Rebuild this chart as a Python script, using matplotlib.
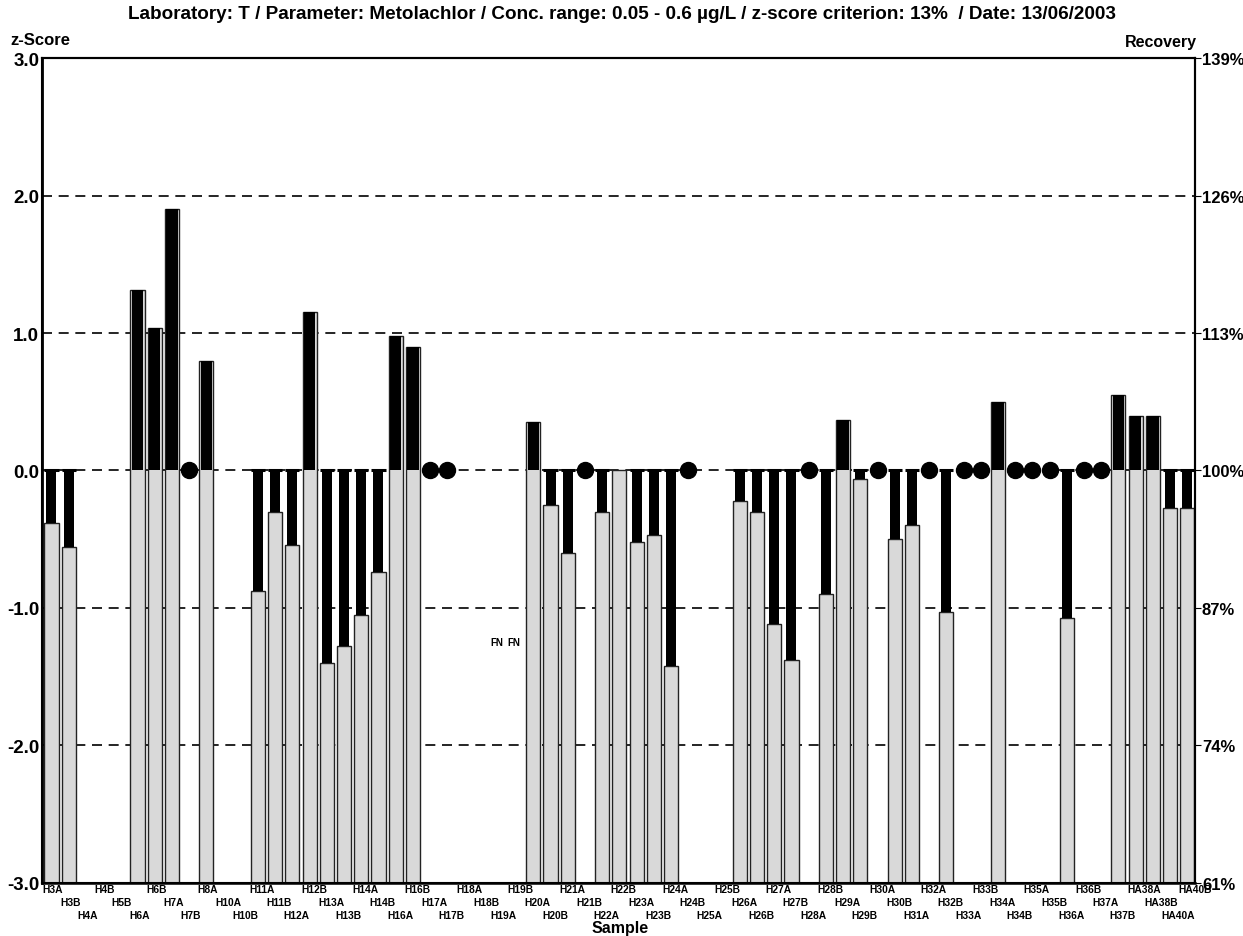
import matplotlib.pyplot as plt
import numpy as np

samples = ["H3A", "H3B", "H4A", "H4B", "H5B", "H6A", "H6B", "H7A", "H7B", "H8A",
           "H10A", "H10B", "H11A", "H11B", "H12A", "H12B", "H13A", "H13B", "H14A", "H14B",
           "H16A", "H16B", "H17A", "H17B", "H18A", "H18B", "H19A", "H19B", "H20A", "H20B",
           "H21A", "H21B", "H22A", "H22B", "H23A", "H23B", "H24A", "H24B", "H25A", "H25B",
           "H26A", "H26B", "H27A", "H27B", "H28A", "H28B", "H29A", "H29B", "H30A", "H30B",
           "H31A", "H32A", "H32B", "H33A", "H33B", "H34A", "H34B", "H35A", "H35B", "H36A",
           "H36B", "H37A", "H37B", "HA38A", "HA38B", "HA40A", "HA40B"]

# z-scores (None = no bar)
zscore = [-0.38, -0.56, None, None, None, 1.31, 1.04, 1.90, None, 0.80,
          None, None, -0.88, -0.30, -0.54, 1.15, -1.40, -1.28, -1.05, -0.74,
          0.98, 0.90, None, None, None, None, None, None, 0.35, -0.25,
          -0.60, None, -0.30, 0.0, -0.52, -0.47, -1.42, None, None, None,
          -0.22, -0.30, -1.12, -1.38, None, -0.90, 0.37, -0.06, None, -0.50,
          -0.40, None, -1.03, None, None, 0.50, None, None, None, -1.07,
          None, None, 0.55, 0.40, 0.40, -0.27, -0.27]

# samples shown with a round marker on the zero line
dot_samples = ["H7B", "H17A", "H17B", "H21B", "H24B", "H28A", "H30A", "H32A", "H33A",
               "H33B", "H34B", "H35A", "H35B", "H36B", "H37A"]
fn_samples = ["H19A", "H19B"]
fn_level = -1.25

zticks = [3, 2, 1, 0, -1, -2, -3]
recovery_labels = ["139%", "126%", "113%", "100%", "87%", "74%", "61%"]

title = ("Laboratory: T / Parameter: Metolachlor / Conc. range: 0.05 - 0.6 \u00b5g/L / "
         "z-score criterion: 13%  / Date: 13/06/2003")

plt.rcParams['font.family'] = ["Liberation Sans", "DejaVu Sans"]

fig = plt.figure(figsize=(12.43, 9.37), dpi=100)
ax = fig.add_axes([0.0338, 0.0566, 0.9276, 0.8804])

n = len(samples)
ax.set_xlim(0, n)
ax.set_ylim(-3, 3)
bottom = -3

for lv in [2, 1, 0, -1, -2]:
    ax.axhline(lv, color='black', lw=1.2, ls=(0, (6, 4)), zorder=1)

for i, z in enumerate(zscore):
    if z is None:
        continue
    xc = i + 0.55
    ax.bar(xc, z - bottom, bottom=bottom, width=0.82, color='#d9d9d9',
           edgecolor='#222222', linewidth=1.0, zorder=2)
    if z > 0:
        ax.bar(xc, z, bottom=0, width=0.66, color='black', linewidth=0, zorder=3)
    elif z < 0:
        ax.bar(xc, z, bottom=0, width=0.58, color='black', linewidth=0, zorder=3)
        ax.hlines(0, xc - 0.41, xc + 0.41, color='black', lw=2.2, zorder=3)

dot_x = [samples.index(s) + 0.55 for s in dot_samples]
ax.plot(dot_x, [0] * len(dot_x), 'o', color='black', ms=11.5, zorder=4)

for s in fn_samples:
    ax.text(samples.index(s) + 0.05, fn_level, "FN", fontsize=7,
            fontweight='bold', va='center', ha='left', zorder=4)

ax.set_yticks(zticks)
ax.set_yticklabels([f"{t:.1f}" for t in zticks], fontsize=13.5, fontweight='bold')
ax.tick_params(axis='y', length=0, pad=2)
ax.set_xticks([])

ax2 = ax.twinx()
ax2.set_ylim(-3, 3)
ax2.set_yticks(zticks)
ax2.set_yticklabels(recovery_labels, fontsize=12, fontweight='bold')
ax2.tick_params(axis='y', length=4, pad=1)

for a in (ax, ax2):
    for sp in a.spines.values():
        sp.set_linewidth(1.5)
ax.spines['left'].set_linewidth(2.0)
ax.spines['bottom'].set_linewidth(1.8)

# staggered sample labels below the axis
rows_y = [-3.01, -3.105, -3.195]
for i, s in enumerate(samples):
    ax.text(i + 0.05, rows_y[i % 3], s, fontsize=7.4, fontweight='bold',
            ha='left', va='top', clip_on=False)

fig.text(0.5, 0.984, title, ha='center', va='center', fontsize=13.6,
         fontweight='bold')
fig.text(0.008, 0.957, "z-Score", ha='left', va='center', fontsize=12, fontweight='bold')
fig.text(0.963, 0.955, "Recovery", ha='right', va='center', fontsize=11.5,
         fontweight='bold')
fig.text(0.499, 0.009, "Sample", ha='center', va='center', fontsize=11.5, fontweight='bold')

fig.savefig("out.png", dpi=100)
